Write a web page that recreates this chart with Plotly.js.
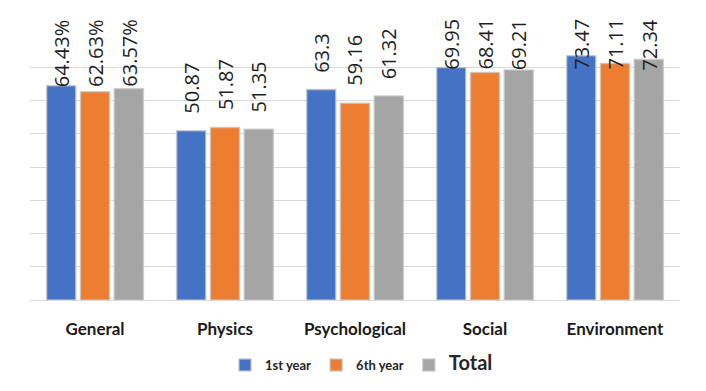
<!DOCTYPE html>
<html>
<head>
<meta charset="utf-8">
<script src="https://cdn.plot.ly/plotly-3.0.1.min.js"></script>
<style>html,body{margin:0;padding:0;background:#fff;}#chart{width:706px;height:391px;}</style>
</head>
<body>
<div id="chart"></div>
<script>
const categories = ["General", "Physics", "Psychological", "Social", "Environment"];
const firstYear = [64.43, 50.87, 63.3, 69.95, 73.47];
const sixthYear = [62.63, 51.87, 59.16, 68.41, 71.11];
const total = [63.57, 51.35, 61.32, 69.21, 72.34];
const firstYearLabels = ["64.43%", "50.87", "63.3", "69.95", "73.47"];
const sixthYearLabels = ["62.63%", "51.87", "59.16", "68.41", "71.11"];
const totalLabels = ["63.57%", "51.35", "61.32", "69.21", "72.34"];

function mk(name, y, color) {
  return {
    type: "bar", name: name, x: categories, y: y,
    hoverinfo: "skip",
    marker: {color: color, line: {color: "rgba(195,195,195,0.75)", width: 1.5}}
  };
}
const data = [
  mk("<b>1st year</b>", firstYear, "#4472C4"),
  mk("<b>6th year</b>", sixthYear, "#ED7D31"),
  mk('<span style="font-size:20px"><b>Total</b></span>', total, "#A5A5A5")
];

// Excel-like "outside end" labels: offset above bar, clamped at the chart top
const plotH = 266, yMax = 80, pxPerUnit = plotH / yMax;
const fontSize = 20, gapPx = 15, topLimitPx = 17, plotTopPx = 34;
function textLen(s) {
  let w = 0;
  for (const ch of s) w += (ch === "." ? 0.27 : ch === "%" ? 0.82 : 0.572);
  return w * fontSize;
}
const series = [[firstYear, firstYearLabels], [sixthYear, sixthYearLabels], [total, totalLabels]];
const slot = 33.7;
const annotations = [];
const clampPaper = 1 + (plotTopPx - topLimitPx) / plotH;
const clampUnits = yMax * clampPaper;
series.forEach(function (s, si) {
  categories.forEach(function (c, ci) {
    const v = s[0][ci], t = s[1][ci];
    const bottomUnits = v + gapPx / pxPerUnit;
    const topUnits = bottomUnits + textLen(t) / pxPerUnit;
    const clamped = topUnits > clampUnits;
    annotations.push({
      x: c, xref: "x",
      y: clamped ? clampPaper : bottomUnits, yref: clamped ? "paper" : "y",
      text: t, showarrow: false, textangle: -90, xanchor: "center",
      yanchor: clamped ? "top" : "bottom",
      xshift: (si - 1) * slot,
      font: {family: "Open Sans, Liberation Sans, sans-serif", size: fontSize, color: "#1f1f1f"}
    });
  });
});

const layout = {
  width: 706, height: 391,
  margin: {l: 30, r: 26, t: 34, b: 91, autoexpand: false},
  paper_bgcolor: "#ffffff", plot_bgcolor: "#ffffff",
  barmode: "group", bargap: 0.22, bargroupgap: 0.14,
  showlegend: true,
  legend: {orientation: "h", x: 0.51, xanchor: "center", y: -0.245, yanchor: "middle",
           font: {family: "Lato, Open Sans, sans-serif", size: 13, color: "#262626"},
           itemwidth: 30, traceorder: "normal"},
  xaxis: {type: "category", showgrid: false, zeroline: false, showline: false, ticks: "",
          ticklabelstandoff: 17, automargin: false,
          tickfont: {family: "Lato, Open Sans, sans-serif", size: 17, color: "#1a1a1a", weight: "bold"}},
  yaxis: {range: [0, yMax], dtick: 10, showticklabels: false, showgrid: true, automargin: false,
          gridcolor: "#d9d9d9", gridwidth: 1, zeroline: true, zerolinecolor: "#d9d9d9", showline: false},
  annotations: annotations,
  font: {family: "Lato, Open Sans, sans-serif"}
};
Plotly.newPlot("chart", data, layout, {displayModeBar: false, staticPlot: true});
</script>
</body>
</html>
